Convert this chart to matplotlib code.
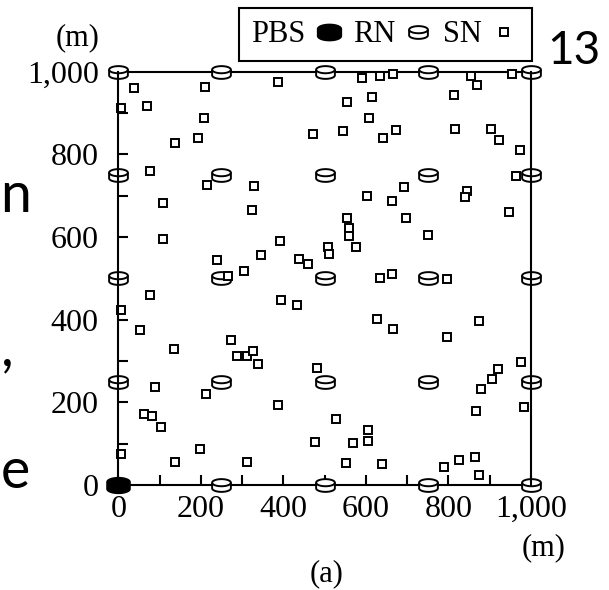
import numpy as np
import matplotlib
matplotlib.use("Agg")
import matplotlib.pyplot as plt
from matplotlib.path import Path
from matplotlib.lines import Line2D
from matplotlib.legend_handler import HandlerTuple

# ---------------- data ----------------
pbs_x = [0]
pbs_y = [0]

rn_grid = [0, 250, 500, 750, 1000]
rn_x = [gx for gy in rn_grid for gx in rn_grid if not (gx == 0 and gy == 0)]
rn_y = [gy for gy in rn_grid for gx in rn_grid if not (gx == 0 and gy == 0)]

sn_x = [39, 210, 386, 553, 6, 69, 207, 472, 544, 138, 194, 78, 216, 329, 108, 323, 553, 560, 560, 108,
        392, 508, 511, 239, 346, 437, 460, 305, 266, 78,
        591, 633, 666, 855, 869, 953, 615, 813, 607, 642, 672, 816, 902, 923, 974, 964, 693, 603, 663, 846,
        840, 947, 697, 750, 577, 633, 663, 797,
        6, 394, 433, 52, 272, 135, 287, 313, 326, 338, 481, 88, 212, 386, 528, 63, 82, 104, 476, 6,
        198, 138, 311, 552,
        628, 666, 873, 797, 976, 921, 905, 879, 983, 866, 605, 605, 568, 640, 789, 825, 864, 873]
sn_y = [960, 962, 975, 927, 911, 918, 888, 849, 856, 828, 840, 760, 727, 724, 682, 665, 646, 621, 602, 596,
        590, 576, 558, 545, 557, 548, 534, 518, 506, 460,
        984, 990, 995, 990, 969, 995, 939, 944, 888, 840, 858, 861, 861, 835, 810, 748, 721, 700, 688, 712,
        697, 661, 646, 605, 575, 500, 510, 498,
        423, 448, 436, 375, 352, 328, 313, 313, 325, 292, 282, 238, 220, 194, 160, 172, 167, 140, 104, 74,
        86, 56, 56, 54,
        402, 378, 398, 357, 298, 281, 256, 232, 188, 178, 133, 107, 101, 51, 44, 60, 68, 23]

x_ticks = [0, 200, 400, 600, 800, 1000]
y_ticks = [0, 200, 400, 600, 800, 1000]
tick_labels = ["0", "200", "400", "600", "800", "1,000"]
legend_labels = ["PBS", "RN", "SN"]

# ---------------- cylinder marker paths ----------------
b = 0.38   # semi-minor axis of ellipse
h = 0.30   # half distance between top and bottom ellipse centres
t_up = np.linspace(np.pi, 0, 40)
t_dn = np.linspace(0, -np.pi, 40)
outline = []
outline += [(np.cos(t), h + b * np.sin(t)) for t in t_up]           # top half of top ellipse
outline += [(1, -h)]
outline += [(np.cos(t), -h + b * np.sin(t)) for t in t_dn]          # bottom half of bottom ellipse
outline += [(-1, h), (-1, h)]
codes = [Path.MOVETO] + [Path.LINETO] * (len(outline) - 2) + [Path.CLOSEPOLY]
cyl_outline = Path(outline, codes)
arc = [(np.cos(t), h + b * np.sin(t)) for t in np.linspace(-np.pi, 0, 40)]  # lower half of top ellipse
cyl_arc = Path(arc, [Path.MOVETO] + [Path.LINETO] * (len(arc) - 1))

# ---------------- figure ----------------
plt.rcParams['font.family'] = ['Liberation Serif', 'DejaVu Serif']
fig = plt.figure(figsize=(6.09, 5.90), dpi=100)
fig.patch.set_facecolor('white')
ax = fig.add_axes([118.3 / 609, 1 - 485 / 590, (531 - 118.3) / 609, (485 - 71.7) / 590])
ax.set_xlim(0, 1000)
ax.set_ylim(0, 1000)

rn_ms = 13.5
ax.plot(rn_x, rn_y, linestyle='none', marker=cyl_outline, ms=rn_ms, mfc='white', mec='black',
        mew=1.4, zorder=3, clip_on=False)
ax.plot(rn_x, rn_y, linestyle='none', marker=cyl_arc, ms=rn_ms, mfc='none', mec='black',
        mew=1.4, zorder=3.1, clip_on=False)
ax.plot(sn_x, sn_y, linestyle='none', marker='s', ms=5.2, mfc='white', mec='black', mew=1.4,
        zorder=3.2, clip_on=False)
ax.plot(pbs_x, pbs_y, linestyle='none', marker=cyl_outline, ms=16.5, mfc='black', mec='black',
        mew=1.2, zorder=4, clip_on=False)

for s in ['left', 'right', 'top', 'bottom']:
    ax.spines[s].set_linewidth(1.5)
ax.spines['left'].set_zorder(5)
ax.spines['right'].set_zorder(5)

ax.set_xticks(x_ticks)
ax.set_xticklabels(tick_labels)
ax.set_yticks(y_ticks)
ax.set_yticklabels(tick_labels)
ax.set_xticks(np.arange(100, 1000, 200), minor=True)
ax.set_yticks(np.arange(100, 1000, 200), minor=True)
ax.tick_params(which='both', direction='in', length=7.5, width=1.5, top=False, right=False)
ax.tick_params(axis='x', which='major', labelsize=23, pad=7)
ax.tick_params(axis='y', which='major', labelsize=23, pad=14)

fig.text(78 / 609, 1 - 38 / 590, "(m)", fontsize=22, ha='center', va='center')
fig.text(544 / 609, 1 - 548 / 590, "(m)", fontsize=22, ha='center', va='center')
fig.text(327 / 609, 1 - 574 / 590, "(a)", fontsize=22, ha='center', va='center')

# slide fragments (remnants of the surrounding slide)
sans = ['Lato', 'DejaVu Sans']
fig.text(547 / 609, 1 - 64 / 590, "13", fontsize=33, family=sans, ha='left', va='baseline')
fig.text(0.5 / 609, 1 - 196 / 590, "n", fontsize=40, family=sans, ha='left', va='center')
fig.text(0.5 / 609, 1 - 350 / 590, ",", fontsize=40, family=sans, ha='left', va='center')
fig.text(0.5 / 609, 1 - 472 / 590, "e", fontsize=40, family=sans, ha='left', va='center')

# legend
h_pbs = Line2D([], [], linestyle='none', marker=cyl_outline, ms=17, mfc='black', mec='black', mew=1.2)
h_rn1 = Line2D([], [], linestyle='none', marker=cyl_outline, ms=rn_ms, mfc='white', mec='black', mew=1.4)
h_rn2 = Line2D([], [], linestyle='none', marker=cyl_arc, ms=rn_ms, mfc='none', mec='black', mew=1.4)
h_sn = Line2D([], [], linestyle='none', marker='s', ms=5.2, mfc='white', mec='black', mew=1.4)
leg = fig.legend([h_pbs, (h_rn1, h_rn2), h_sn], legend_labels, ncol=3, markerfirst=False,
                 loc='upper right', bbox_to_anchor=(532 / 609, 1 - 8 / 590),
                 handler_map={tuple: HandlerTuple(ndivide=1)},
                 prop={'size': 22}, frameon=True, fancybox=False, edgecolor='black', framealpha=1,
                 handlelength=1.0, handletextpad=0.25, columnspacing=0.3, borderpad=0.4,
                 borderaxespad=0)
leg.get_frame().set_linewidth(1.5)

fig.savefig("out.png", dpi=100)
